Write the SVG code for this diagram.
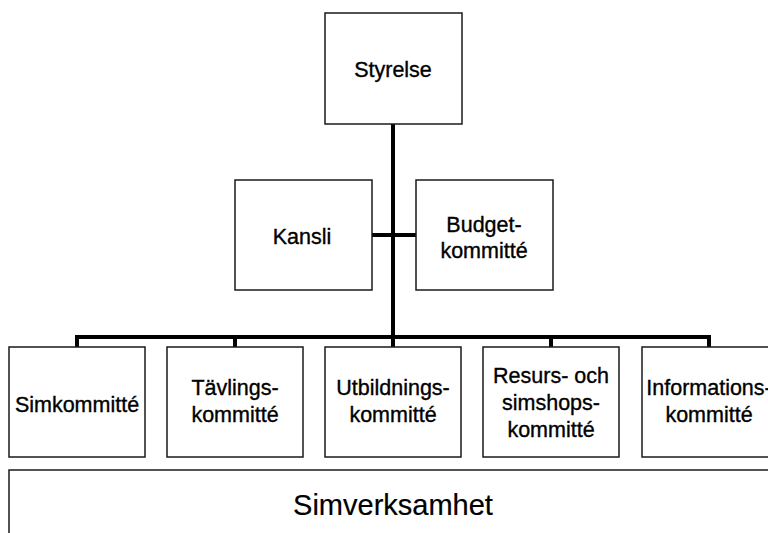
<svg xmlns="http://www.w3.org/2000/svg" width="768" height="533" viewBox="0 0 768 533">
<style>
.box{fill:#fff;stroke:#1a1a1a;stroke-width:1.5}
.t{font-family:"Liberation Sans",Arial,sans-serif;font-size:21.5px;fill:#000;stroke:#000;stroke-width:0.35;text-anchor:middle}
.big{font-size:29px;stroke-width:0.2}
.c{stroke:#000;stroke-width:4;fill:none}
</style>
<rect width="768" height="533" fill="#fff"/>
<g id="connectors">
<path class="c" d="M393 124V337"/>
<path class="c" d="M372 235H416"/>
<path class="c" d="M77 347V337H709V347"/>
<path class="c" d="M235 337V347M393 337V347M551 337V347"/>
</g>
<g id="styrelse"><rect class="box" x="325" y="13" width="137" height="111"/><text class="t" x="393" y="77">Styrelse</text></g>
<g id="kansli"><rect class="box" x="235" y="180" width="137" height="110"/><text class="t" x="302" y="244">Kansli</text></g>
<g id="budget"><rect class="box" x="416" y="180" width="137" height="110"/><text class="t" x="484" y="232">Budget-</text><text class="t" x="484" y="258">kommitté</text></g>
<g id="simkommitte"><rect class="box" x="9" y="347" width="136" height="110"/><text class="t" x="77" y="412">Simkommitté</text></g>
<g id="tavlings"><rect class="box" x="167" y="347" width="136" height="110"/><text class="t" x="235" y="395">Tävlings-</text><text class="t" x="235" y="422">kommitté</text></g>
<g id="utbildnings"><rect class="box" x="325" y="347" width="136" height="110"/><text class="t" x="393" y="395">Utbildnings-</text><text class="t" x="393" y="422">kommitté</text></g>
<g id="resurs"><rect class="box" x="483" y="347" width="136" height="110"/><text class="t" x="551" y="383">Resurs- och</text><text class="t" x="551" y="410">simshops-</text><text class="t" x="551" y="437">kommitté</text></g>
<g id="informations"><rect class="box" x="642" y="347" width="136" height="110"/><text class="t" x="709" y="395">Informations-</text><text class="t" x="709" y="422">kommitté</text></g>
<g id="simverksamhet"><rect class="box" x="9" y="470" width="800" height="100"/><text class="t big" x="393" y="515">Simverksamhet</text></g>
</svg>
